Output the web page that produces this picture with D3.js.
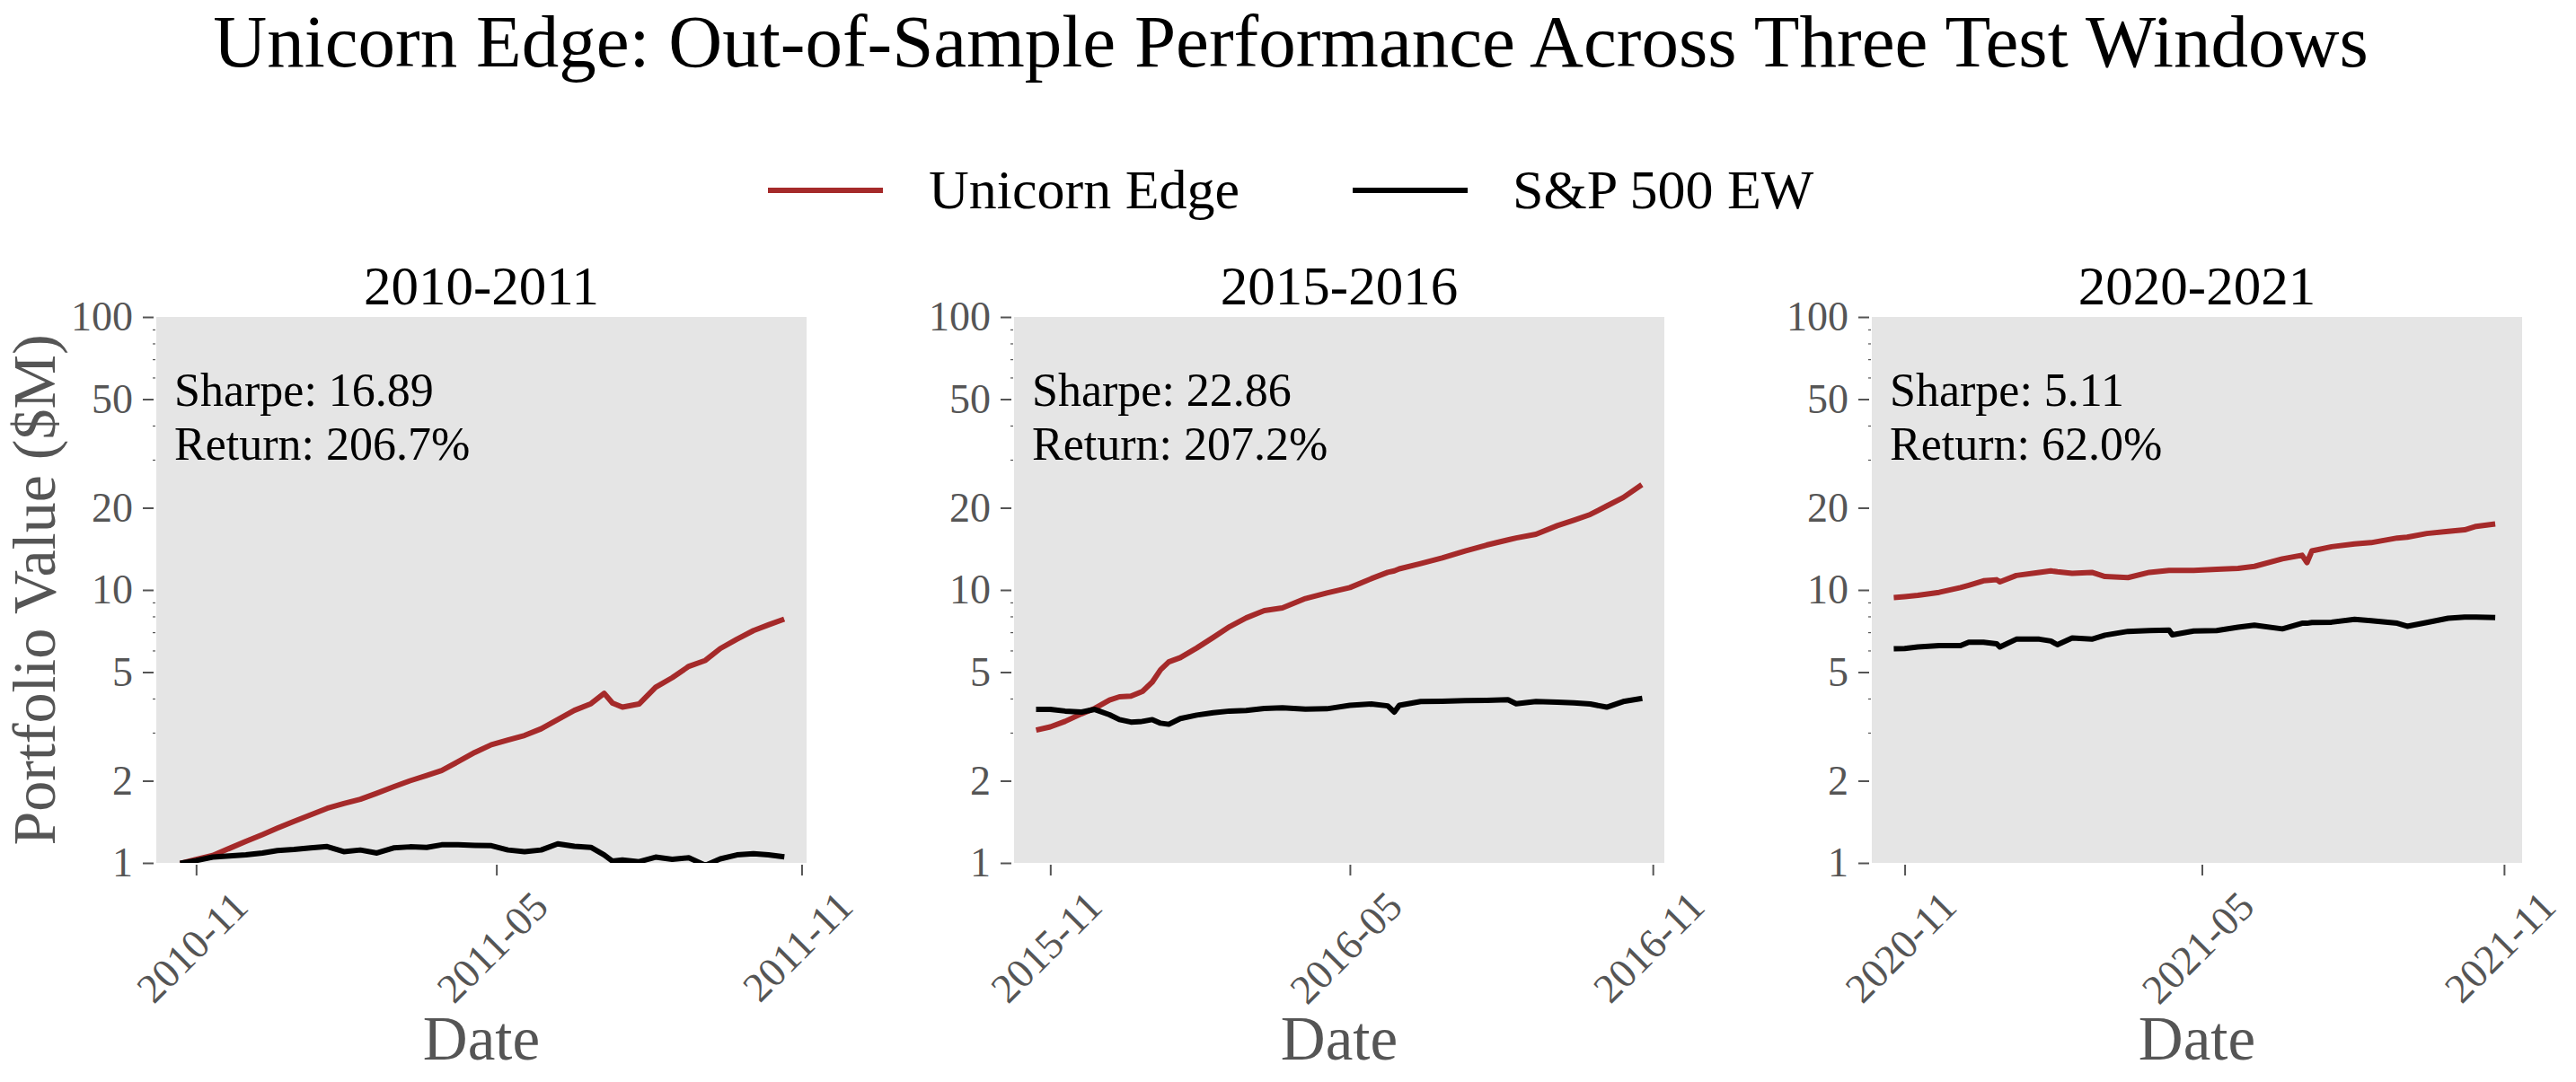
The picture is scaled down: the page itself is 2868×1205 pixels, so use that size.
<!DOCTYPE html>
<html><head><meta charset="utf-8">
<script src="https://cdn.jsdelivr.net/npm/d3@7"></script>
<style>
body{margin:0;background:#fff}
svg{display:block}
text{font-family:"Liberation Serif","Times New Roman",serif}
</style>
</head><body>
<svg id="chart" width="2868" height="1205"></svg>
<script>
// ---------- data ----------
const panelTitles = ["2010-2011", "2015-2016", "2020-2021"];
const sharpeLabels = ["16.89", "22.86", "5.11"];
const returnLabels = ["206.7%", "207.2%", "62.0%"];
const seriesNames = ["Unicorn Edge", "S&P 500 EW"];
const seriesColors = ["#A52A2A", "#000000"];

const dates1 = ["2010-10-24","2010-11-01","2010-11-11","2010-11-21","2010-12-01","2010-12-11","2010-12-20","2010-12-30","2011-01-09","2011-01-19","2011-01-29","2011-02-08","2011-02-18","2011-02-28","2011-03-10","2011-03-20","2011-03-29","2011-04-08","2011-04-18","2011-04-28","2011-05-08","2011-05-18","2011-05-28","2011-06-07","2011-06-17","2011-06-27","2011-07-05","2011-07-10","2011-07-16","2011-07-26","2011-08-05","2011-08-15","2011-08-25","2011-09-04","2011-09-13","2011-09-23","2011-10-03","2011-10-12","2011-10-20"];
const edge1 = [1.0,1.03,1.065,1.13,1.2,1.27,1.34,1.42,1.5,1.585,1.65,1.71,1.8,1.9,2.0,2.09,2.18,2.35,2.54,2.71,2.82,2.93,3.1,3.35,3.62,3.83,4.18,3.85,3.72,3.82,4.4,4.77,5.25,5.52,6.1,6.6,7.1,7.45,7.76];
const bench1 = [1.0,1.02,1.05,1.06,1.07,1.087,1.11,1.12,1.135,1.148,1.10,1.115,1.087,1.135,1.145,1.14,1.165,1.165,1.16,1.156,1.115,1.10,1.115,1.175,1.15,1.14,1.07,1.015,1.025,1.01,1.05,1.03,1.045,0.98,1.035,1.07,1.08,1.07,1.055];

const dates2 = ["2015-10-25","2015-11-01","2015-11-10","2015-11-20","2015-11-28","2015-12-07","2015-12-13","2015-12-20","2015-12-27","2016-01-02","2016-01-07","2016-01-12","2016-01-19","2016-01-29","2016-02-08","2016-02-18","2016-02-28","2016-03-10","2016-03-21","2016-04-04","2016-04-17","2016-05-01","2016-05-14","2016-05-24","2016-05-28","2016-05-31","2016-06-13","2016-06-26","2016-07-10","2016-07-23","2016-08-05","2016-08-10","2016-08-22","2016-09-04","2016-09-14","2016-09-24","2016-10-04","2016-10-14","2016-10-24"];
const edge2 = [3.08,3.15,3.3,3.52,3.68,3.95,4.06,4.08,4.25,4.6,5.1,5.45,5.65,6.13,6.7,7.34,7.9,8.4,8.6,9.3,9.75,10.2,11.0,11.6,11.75,11.95,12.5,13.1,13.9,14.6,15.25,15.5,16.0,17.2,18.0,18.9,20.3,21.8,24.0];
const bench2 = [3.65,3.65,3.6,3.57,3.65,3.49,3.35,3.28,3.3,3.35,3.25,3.22,3.38,3.48,3.55,3.6,3.62,3.68,3.7,3.66,3.67,3.78,3.82,3.76,3.57,3.78,3.9,3.91,3.93,3.94,3.96,3.83,3.9,3.88,3.86,3.82,3.72,3.9,3.99];

const dates3 = ["2020-10-27","2020-11-01","2020-11-09","2020-11-22","2020-12-05","2020-12-10","2020-12-19","2020-12-27","2020-12-29","2021-01-08","2021-01-22","2021-01-29","2021-02-02","2021-02-11","2021-02-23","2021-03-03","2021-03-17","2021-03-30","2021-04-11","2021-04-13","2021-04-26","2021-05-10","2021-05-23","2021-06-02","2021-06-19","2021-07-01","2021-07-04","2021-07-07","2021-07-19","2021-08-02","2021-08-12","2021-08-28","2021-09-03","2021-09-15","2021-09-28","2021-10-08","2021-10-15","2021-10-25"];
const edge3 = [9.4,9.45,9.55,9.8,10.2,10.4,10.8,10.9,10.7,11.3,11.6,11.75,11.65,11.5,11.6,11.2,11.1,11.6,11.8,11.8,11.8,11.9,12.0,12.2,13.0,13.4,12.6,13.9,14.4,14.75,14.9,15.5,15.6,16.1,16.4,16.6,17.1,17.4];
const bench3 = [6.09,6.1,6.18,6.25,6.25,6.43,6.43,6.35,6.18,6.6,6.6,6.5,6.3,6.67,6.6,6.83,7.05,7.1,7.12,6.85,7.07,7.1,7.3,7.43,7.2,7.55,7.55,7.6,7.62,7.8,7.72,7.55,7.36,7.6,7.88,7.95,7.95,7.92];

const xDomain1 = ["2010-10-08", "2011-11-04"];
const xDomain2 = ["2015-10-10", "2016-11-08"];
const xDomain3 = ["2020-10-12", "2021-11-12"];
const xTicks1 = ["2010-11-01","2011-05-01","2011-11-01"];
const xTicks2 = ["2015-11-01","2016-05-01","2016-11-01"];
const xTicks3 = ["2020-11-01","2021-05-01","2021-11-01"];
const yTicks = [1, 2, 5, 10, 20, 50, 100];
const yMinorTicks = [3, 4, 6, 7, 8, 9, 30, 40, 60, 70, 80, 90];

const panels = [
  {title: panelTitles[0], dates: dates1, edge: edge1, bench: bench1, ticks: xTicks1, domain: xDomain1, sharpe: sharpeLabels[0], ret: returnLabels[0]},
  {title: panelTitles[1], dates: dates2, edge: edge2, bench: bench2, ticks: xTicks2, domain: xDomain2, sharpe: sharpeLabels[1], ret: returnLabels[1]},
  {title: panelTitles[2], dates: dates3, edge: edge3, bench: bench3, ticks: xTicks3, domain: xDomain3, sharpe: sharpeLabels[2], ret: returnLabels[2]}
];

// ---------- layout ----------
const svg = d3.select("#chart");
const parse = d3.timeParse("%Y-%m-%d");
const fmt = d3.timeFormat("%Y-%m");
const panelX = [174, 1129, 2084];
const pw = 724, pTop = 353, pBottom = 961;
const gray = "#555555";
const tickFont = 46;

const y = d3.scaleLog().domain([1, 100]).range([pBottom, pTop]);

// title
svg.append("text").attr("x", 1437).attr("y", 74).attr("text-anchor", "middle")
  .attr("font-size", 83).attr("fill", "#000")
  .text("Unicorn Edge: Out-of-Sample Performance Across Three Test Windows");

// legend
const legend = [{x1: 855, x2: 983, tx: 1034}, {x1: 1506, x2: 1634, tx: 1684}];
legend.forEach((l, i) => {
  svg.append("line").attr("x1", l.x1).attr("x2", l.x2).attr("y1", 212).attr("y2", 212)
    .attr("stroke", seriesColors[i]).attr("stroke-width", 6);
  svg.append("text").attr("x", l.tx).attr("y", 232).attr("font-size", 62).attr("fill", "#000")
    .text(seriesNames[i]);
});

const defs = svg.append("defs");

panels.forEach((p, i) => {
  const x0 = panelX[i];
  const ds = p.dates.map(parse);
  const x = d3.scaleTime().domain(p.domain.map(parse)).range([x0, x0 + pw]);

  const g = svg.append("g");
  g.append("rect").attr("x", x0).attr("y", pTop).attr("width", pw).attr("height", pBottom - pTop)
    .attr("fill", "#E5E5E5");

  defs.append("clipPath").attr("id", "clip" + i).append("rect")
    .attr("x", x0).attr("y", pTop).attr("width", pw).attr("height", pBottom - pTop);

  const line = d3.line().x(d => x(d.date)).y(d => y(d.v)).curve(d3.curveLinear);
  const bench = ds.map((d, k) => ({date: d, v: p.bench[k]}));
  const edge = ds.map((d, k) => ({date: d, v: p.edge[k]}));
  const lg = g.append("g").attr("clip-path", `url(#clip${i})`);
  lg.append("path").datum(edge).attr("d", line).attr("fill", "none")
    .attr("stroke", seriesColors[0]).attr("stroke-width", 6)
    .attr("stroke-linejoin", "round").attr("stroke-linecap", "square");
  lg.append("path").datum(bench).attr("d", line).attr("fill", "none")
    .attr("stroke", seriesColors[1]).attr("stroke-width", 6)
    .attr("stroke-linejoin", "round").attr("stroke-linecap", "square");

  // y axis major
  const ya = g.append("g").attr("transform", `translate(${x0 - 3},0)`)
    .call(d3.axisLeft(y).tickValues(yTicks).tickFormat(d3.format("d")).tickSize(12).tickPadding(11));
  ya.select(".domain").remove();
  ya.selectAll("line").attr("stroke", gray).attr("stroke-width", 2);
  ya.selectAll("text").attr("font-size", tickFont).attr("fill", gray)
    .attr("font-family", '"Liberation Serif","Times New Roman",serif');
  // y axis minor
  const ym = g.append("g").attr("transform", `translate(${x0 - 1},0)`)
    .call(d3.axisLeft(y).tickValues(yMinorTicks).tickFormat("").tickSize(3));
  ym.select(".domain").remove();
  ym.selectAll("line").attr("stroke", gray).attr("stroke-width", 1.2);

  // x axis
  const xTickDates = p.ticks.map(parse);
  const xa = g.append("g").attr("transform", `translate(0,${pBottom + 2})`)
    .call(d3.axisBottom(x).tickValues(xTickDates).tickFormat("").tickSize(12));
  xa.select(".domain").remove();
  xa.selectAll("line").attr("stroke", gray).attr("stroke-width", 2);

  xTickDates.forEach(td => {
    const t = g.append("text").attr("font-size", tickFont).attr("fill", gray)
      .attr("text-anchor", "middle").attr("dy", "0.34em").text(fmt(td));
    const w = t.node().getComputedTextLength();
    const hb = (w + 0.68 * tickFont) * Math.SQRT1_2;
    const cx = x(td) - 4.5, cy = pBottom + 29 + hb / 2;
    t.attr("x", cx).attr("y", cy).attr("transform", `rotate(-45,${cx},${cy})`);
  });

  // axis label
  g.append("text").attr("x", x0 + pw / 2).attr("y", 1180).attr("text-anchor", "middle")
    .attr("font-size", 69).attr("fill", gray).text("Date");

  // subplot title
  g.append("text").attr("x", x0 + pw / 2).attr("y", 339).attr("text-anchor", "middle")
    .attr("font-size", 61).attr("fill", "#000").text(p.title);

  // annotation
  g.append("text").attr("x", x0 + 20).attr("y", 452).attr("font-size", 52).attr("fill", "#000")
    .text("Sharpe: " + p.sharpe);
  g.append("text").attr("x", x0 + 20).attr("y", 512).attr("font-size", 52).attr("fill", "#000")
    .text("Return: " + p.ret);
});

// y label
svg.append("text").attr("transform", `translate(61,${(pTop + pBottom) / 2}) rotate(-90)`)
  .attr("text-anchor", "middle").attr("font-size", 68).attr("fill", gray)
  .text("Portfolio Value ($M)");
</script>
</body></html>
